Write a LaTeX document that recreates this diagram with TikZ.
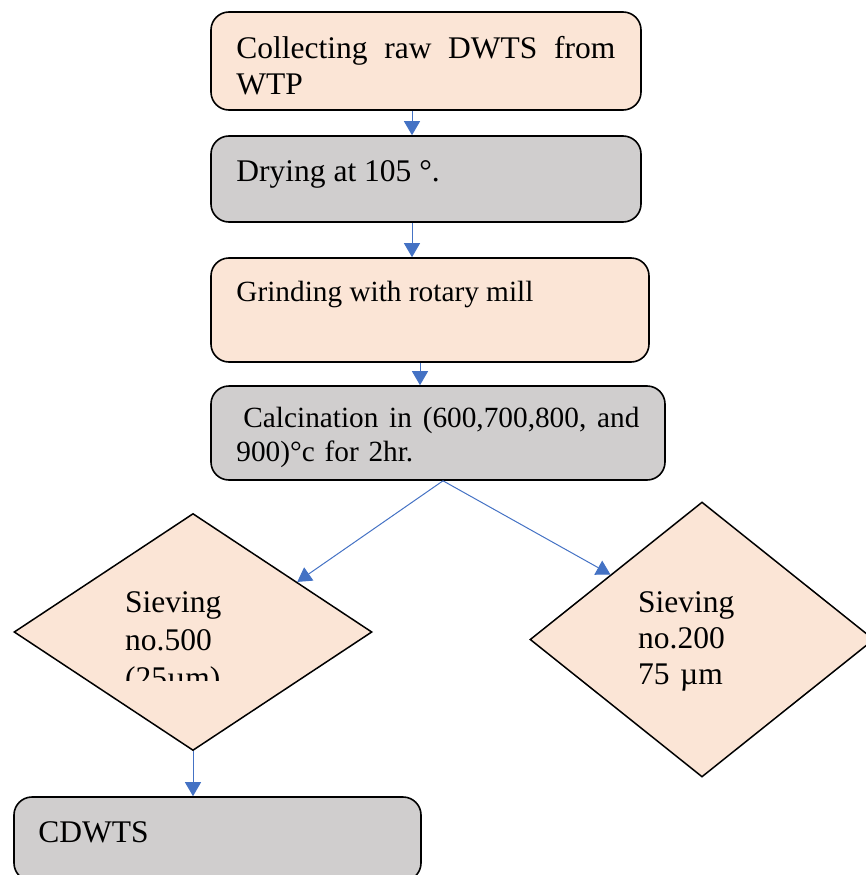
\documentclass[tikz,border=0pt]{standalone}
\usepackage{fontspec}
\setmainfont{Liberation Serif}
\usetikzlibrary{shapes.geometric,arrows.meta,calc}
\definecolor{peach}{HTML}{FBE5D6}
\definecolor{stone}{HTML}{D0CECE}
\definecolor{flowblue}{HTML}{4472C4}

\begin{document}
\begin{tikzpicture}[x=1pt,y=-1pt,
  box/.style={draw,line width=1.6pt,rounded corners=18pt,inner sep=0pt},
  rhomb/.style={draw,diamond,line width=1.5pt,inner sep=0pt,fill=peach},
  txt/.style={inner sep=0pt,anchor=base west,align=left,font=\fontsize{31.5}{36}\selectfont},
  small/.style={font=\fontsize{29.3}{34}\selectfont},
  flow/.style={draw,color=flowblue,line width=1pt,-{Triangle[width=16pt,length=14pt]}}]
  \useasboundingbox (0,0) rectangle (866,875);

  % process boxes
  \node[box,fill=peach,minimum width=430pt,minimum height=98pt]  (b1) at (426,61)  {};
  \node[box,fill=stone,minimum width=430pt,minimum height=86pt]  (b2) at (426,179) {};
  \node[box,fill=peach,minimum width=438pt,minimum height=104pt] (b3) at (430,310) {};
  \node[box,fill=stone,minimum width=454pt,minimum height=94pt]  (b4) at (438,433) {};
  \node[box,fill=stone,minimum width=407pt,minimum height=84pt]  (b5) at (217.5,839) {};

  % sieves
  \node[rhomb,minimum width=358pt,minimum height=237pt] (sl) at (193,632) {};
  \node[rhomb,minimum width=344pt,minimum height=275pt] (sr) at (702,639.5) {};

  % texts
  \node[txt,text width=379pt] (t1) at ([shift={(26pt,-47pt)}]b1.north west)
    {\hbox to 379pt{Collecting\hfill raw\hfill DWTS\hfill from}\\WTP};
  \node[txt] (t2) at ([shift={(26pt,-46pt)}]b2.north west) {Drying at 105 °.};
  \node[txt,small] (t3) at ([shift={(26pt,-44pt)}]b3.north west) {Grinding with rotary mill};
  \node[txt,small,text width=403pt] (t4) at ([shift={(26pt,-42pt)}]b4.north west)
    {\hbox to 403pt{\hspace{7pt}Calcination\hfill in\hfill (600,700,800,\hfill and}\\900)°c for 2hr.};
  \begin{scope}
    \clip (100,560) rectangle (300,680);
    \node[txt,text width=120pt] (t5) at (125,612) {Sieving\\[2pt]no.500\\[2pt](25µm)};
  \end{scope}
  \node[txt,text width=120pt] (t6) at (638,612) {Sieving\\no.200\\75 µm};
  \node[txt] (t7) at ([shift={(25pt,-46pt)}]b5.north west) {CDWTS};

  \path[every edge/.style=flow]
        ([xshift=-14pt]b1.south) edge ([xshift=-14pt]b2.north)
        ([xshift=-14pt]b2.south) edge ([xshift=-18pt]b3.north)
        ([xshift=-10pt]b3.south) edge ([xshift=-18pt]b4.north)
        ([xshift=5pt]b4.south)   edge ($(sl.north)!0.58!(sl.east)$)
        ([xshift=5pt]b4.south)   edge ($(sr.west)!0.47!(sr.north)$)
        (sl.south) edge (sl.south |- b5.north);
\end{tikzpicture}
\end{document}
